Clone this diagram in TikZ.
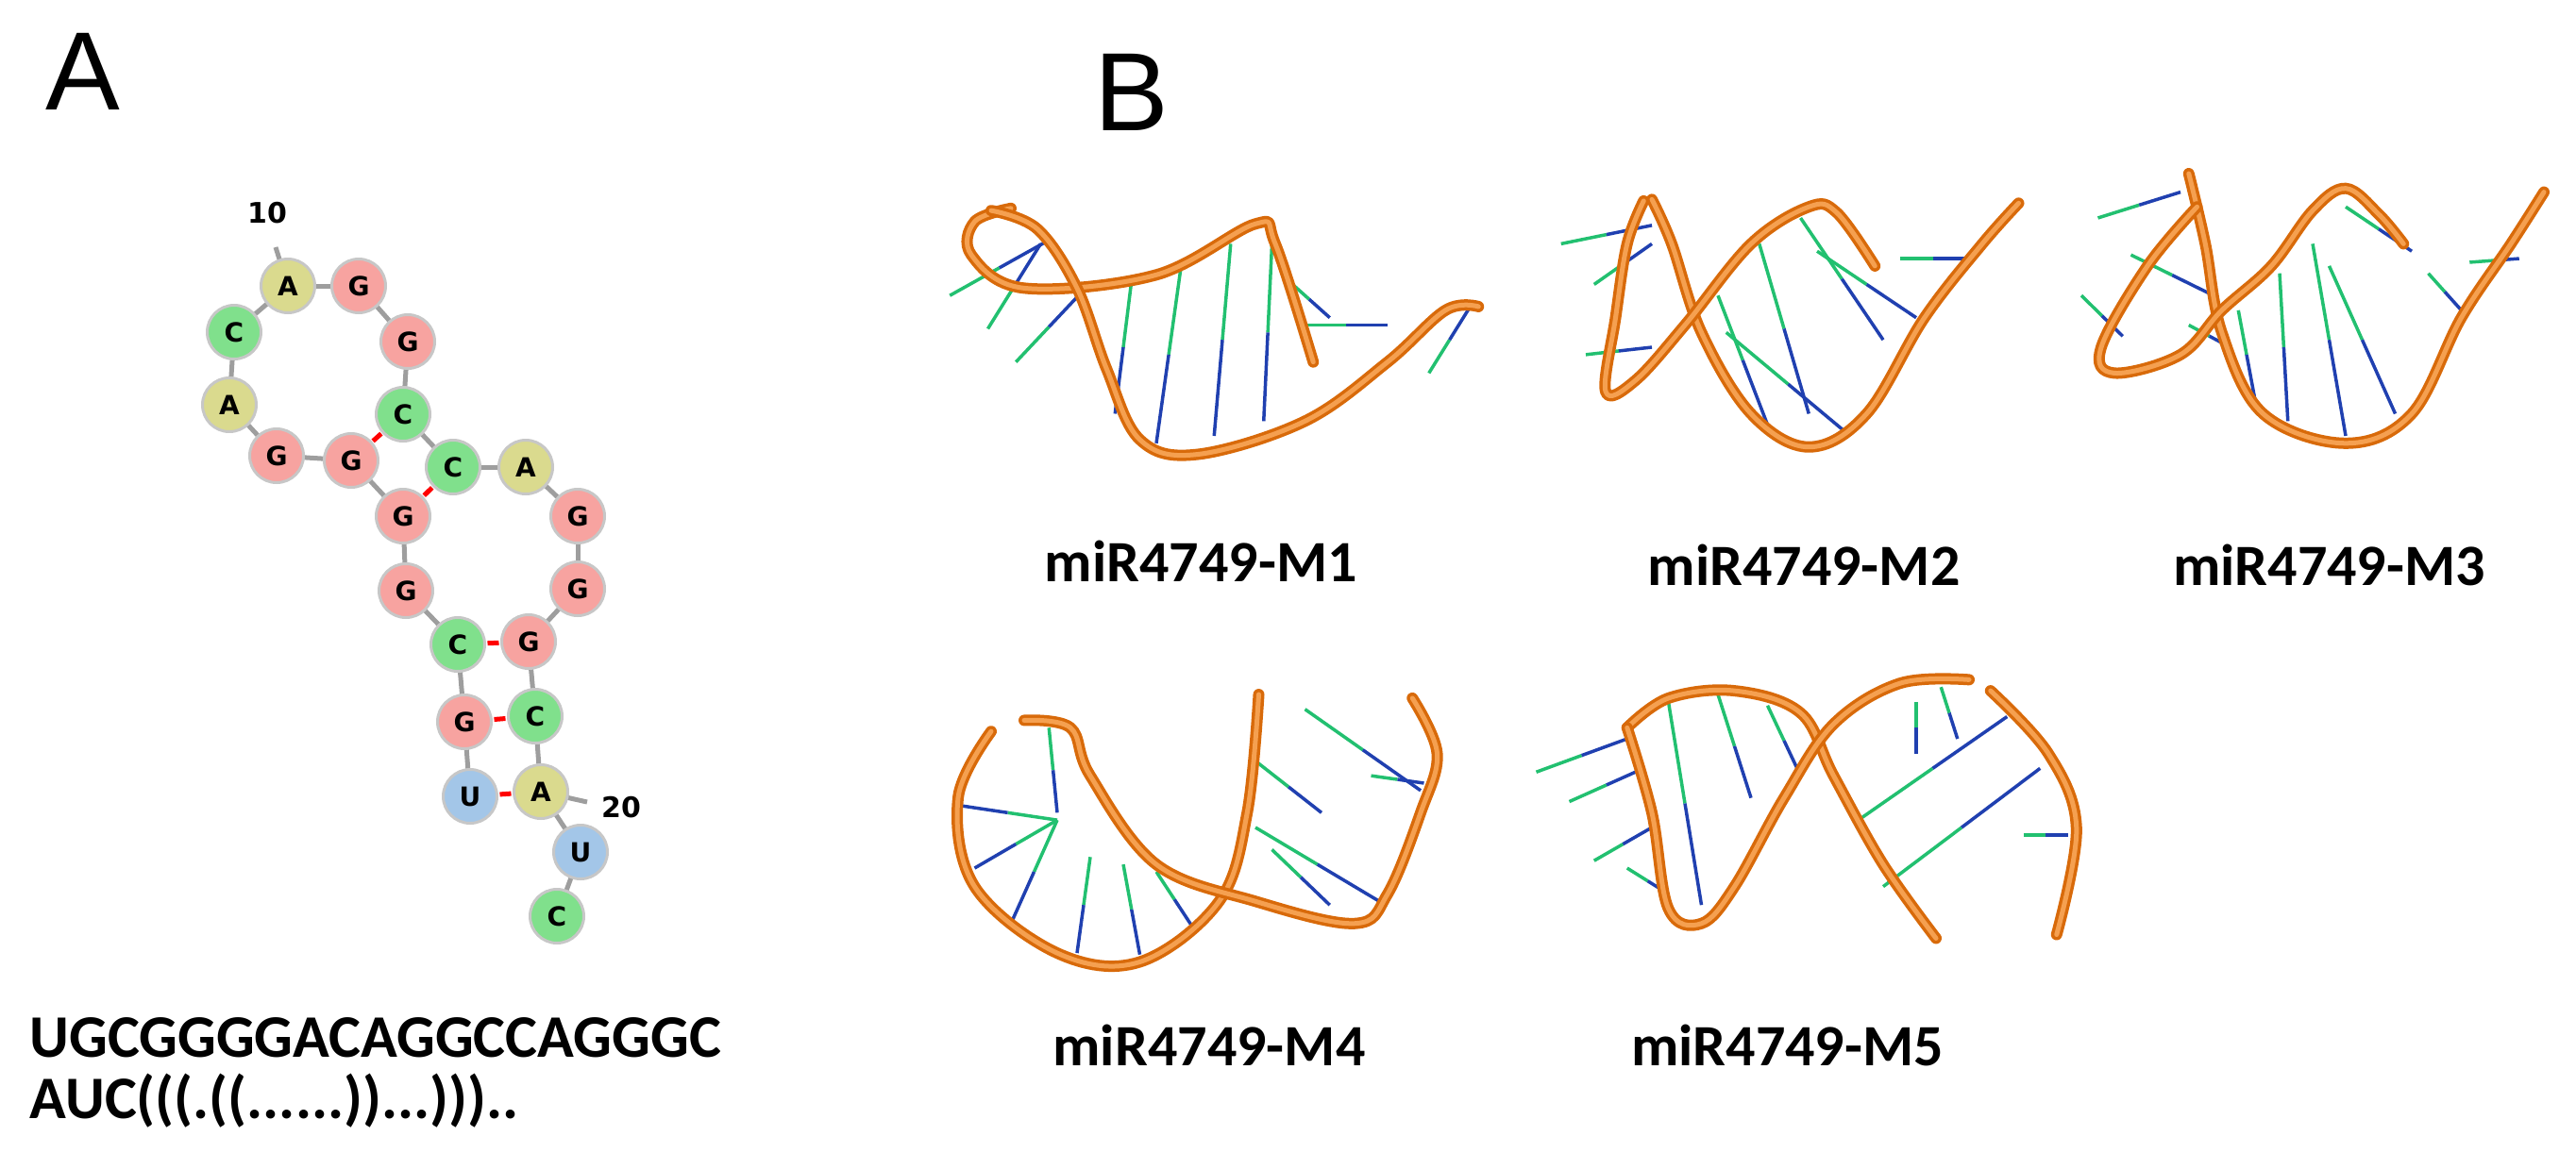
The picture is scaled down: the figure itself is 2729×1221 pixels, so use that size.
\documentclass[tikz,border=0pt]{standalone}
\usepackage{fontspec}
\setmainfont{Carlito}
\newfontfamily\nucfont{DejaVu Sans}
\newfontfamily\arialf{Liberation Sans}
\usetikzlibrary{calc}
\definecolor{ntG}{HTML}{F7A3A0}
\definecolor{ntC}{HTML}{80E08C}
\definecolor{ntA}{HTML}{DADA8E}
\definecolor{ntU}{HTML}{A3C6E8}
\definecolor{ribd}{HTML}{D86A0A}
\definecolor{ribl}{HTML}{F5A050}
\definecolor{rodgc}{HTML}{22C070}
\definecolor{rodbc}{HTML}{2040B0}
\tikzset{
 nt/.style={circle,minimum size=57pt,inner sep=0pt,draw=black!22,line width=3pt,font=\nucfont\bfseries\fontsize{28}{28}\selectfont},
 bb/.style={draw=black!38,line width=5pt},
 bp/.style={draw=red,line width=5pt},
 ribo/.style={draw=ribd,line width=12pt,line cap=round,line join=round},
 ribi/.style={draw=ribl,line width=5pt,line cap=round,line join=round},
 rodg/.style={draw=rodgc,line width=3.5pt},
 rodb/.style={draw=rodbc,line width=3.5pt},
 lab/.style={font=\bfseries\fontsize{62}{70}\selectfont},
}
\newcommand\ribbon[1]{\draw[ribo] plot[smooth,tension=0.6] coordinates{#1}; \draw[ribi] plot[smooth,tension=0.6] coordinates{#1};}
\newcommand\rodd[2]{\draw[rodg] #1 -- ($#1!0.5!#2$); \draw[rodb] ($#1!0.5!#2$) -- #2;}
\begin{document}
\begin{tikzpicture}[x=1pt,y=-1pt]
\useasboundingbox (0,0) rectangle (2729,1221);
\node[font=\arialf\fontsize{118}{118}\selectfont] (lA) at (88,76) {A};
\node[font=\arialf\fontsize{118}{118}\selectfont] (lB) at (1199,98) {B};
% nucleotides in order
\foreach \n/\l/\c/\x/\y in {1/U/ntU/498/844, 2/G/ntG/492/765, 3/C/ntC/485/683, 4/G/ntG/430/626, 5/G/ntG/427/547, 6/G/ntG/372/488, 7/G/ntG/293/483, 8/A/ntA/243/429, 9/C/ntC/248/352, 10/A/ntA/305/303, 11/G/ntG/380/303, 12/G/ntG/432/362, 13/C/ntC/427/439, 14/C/ntC/480/495, 15/A/ntA/557/495, 16/G/ntG/612/547, 17/G/ntG/612/624, 18/G/ntG/560/680, 19/C/ntC/567/759, 20/A/ntA/573/839, 21/U/ntU/615/903, 22/C/ntC/590/971}
  \coordinate (p\n) at (\x,\y);
\foreach \a/\b in {1/2,2/3,3/4,4/5,5/6,6/7,7/8,8/9,9/10,10/11,11/12,12/13,13/14,14/15,15/16,16/17,17/18,18/19,19/20,20/21,21/22}
  \draw[bb] (p\a) -- (p\b);
\foreach \a/\b in {1/20,2/19,3/18,6/13,5/14}
  \draw[bp] ($(p\a)!0.42!(p\b)$) -- ($(p\a)!0.58!(p\b)$);
\coordinate (t10) at (292,262);
\coordinate (t20) at (622,850);
\draw[bb] (p10) -- (t10);
\draw[bb] (p20) -- (t20);
\foreach \n/\l/\c in {1/U/ntU, 2/G/ntG, 3/C/ntC, 4/G/ntG, 5/G/ntG, 6/G/ntG, 7/G/ntG, 8/A/ntA, 9/C/ntC, 10/A/ntA, 11/G/ntG, 12/G/ntG, 13/C/ntC, 14/C/ntC, 15/A/ntA, 16/G/ntG, 17/G/ntG, 18/G/ntG, 19/C/ntC, 20/A/ntA, 21/U/ntU, 22/C/ntC}
  \node[nt,fill=\c] (n\n) at (p\n) {\l};
\node[font=\nucfont\bfseries\fontsize{30}{30}\selectfont] (l10) at (283,226) {10};
\node[font=\nucfont\bfseries\fontsize{30}{30}\selectfont] (l20) at (658,856) {20};
\node[font=\bfseries\fontsize{64}{70}\selectfont,anchor=west] (seq1) at (28,1100) {UGCGGGGACAGGCCAGGGC};
\node[font=\bfseries\fontsize{64}{70}\selectfont,anchor=west] (seq2) at (28,1167) {AUC(((.((......))...)))..};
\begin{scope}[x=1.75pt,y=-0.783pt]
% M1
\rodd{(575,400)}{(635,325)} \rodd{(598,445)}{(630,330)} \rodd{(615,490)}{(655,395)}
\rodd{(685,380)}{(675,560)} \rodd{(715,360)}{(700,600)} \rodd{(745,330)}{(735,590)} \rodd{(770,330)}{(765,570)}
\rodd{(780,380)}{(805,430)} \rodd{(790,440)}{(840,440)} \rodd{(865,505)}{(890,415)}
\ribbon{(612,282)(590,300)(588,345)(620,390)(700,372)(760,303)(772,330)(795,490)}
\ribbon{(600,285)(628,310)(652,390)(670,500)(690,595)(725,615)(790,570)(840,490)(875,420)(895,415)}
% M2
\rodd{(945,330)}{(1000,305)} \rodd{(965,385)}{(1000,330)} \rodd{(960,480)}{(1000,470)}
\rodd{(1065,330)}{(1095,560)} \rodd{(1090,295)}{(1140,460)} \rodd{(1040,400)}{(1070,575)}
\rodd{(1045,450)}{(1120,590)} \rodd{(1150,350)}{(1190,350)} \rodd{(1100,340)}{(1160,430)}
\ribbon{(1000,270)(1012,330)(1030,450)(1060,560)(1095,605)(1130,560)(1165,430)(1200,330)(1222,275)}
\ribbon{(995,272)(985,330)(978,430)(972,530)(990,515)(1020,440)(1060,330)(1095,280)(1112,288)(1135,360)}
% M3
\rodd{(1270,295)}{(1320,260)} \rodd{(1290,345)}{(1340,400)} \rodd{(1260,400)}{(1285,455)} \rodd{(1325,440)}{(1350,470)}
\rodd{(1380,370)}{(1385,570)} \rodd{(1400,330)}{(1420,590)} \rodd{(1420,280)}{(1460,340)} \rodd{(1355,420)}{(1365,540)}
\rodd{(1410,360)}{(1450,560)} \rodd{(1470,370)}{(1490,420)} \rodd{(1495,355)}{(1525,350)}
\ribbon{(1325,235)(1335,330)(1345,450)(1370,560)(1420,600)(1460,560)(1490,430)(1520,330)(1540,260)}
\ribbon{(1330,280)(1300,360)(1272,470)(1280,505)(1320,480)(1345,420)(1375,360)(1400,285)(1420,255)(1440,290)(1455,330)}
% M4
\rodd{(640,1110)}{(580,1090)} \rodd{(640,1110)}{(590,1175)} \rodd{(640,1110)}{(612,1250)}
\rodd{(660,1160)}{(652,1290)} \rodd{(680,1170)}{(690,1292)} \rodd{(700,1180)}{(722,1255)} \rodd{(635,985)}{(640,1100)}
\rodd{(760,1030)}{(800,1100)} \rodd{(760,1120)}{(835,1220)} \rodd{(790,960)}{(860,1070)} \rodd{(830,1050)}{(862,1060)}
\rodd{(770,1150)}{(805,1225)}
\ribbon{(600,990)(580,1080)(590,1200)(640,1290)(690,1302)(738,1220)(755,1100)(762,940)}
\ribbon{(620,975)(648,985)(660,1050)(700,1170)(760,1220)(820,1250)(840,1210)(860,1100)(870,1020)(855,945)}
% M5
\rodd{(930,1045)}{(985,1000)} \rodd{(950,1085)}{(995,1040)} \rodd{(965,1165)}{(1000,1120)} \rodd{(985,1175)}{(1010,1210)}
\rodd{(1010,950)}{(1030,1225)} \rodd{(1040,940)}{(1060,1080)} \rodd{(1070,955)}{(1090,1050)}
\rodd{(1125,1110)}{(1215,970)} \rodd{(1140,1200)}{(1235,1040)} \rodd{(1225,1130)}{(1252,1130)} \rodd{(1160,950)}{(1160,1020)}
\rodd{(1175,930)}{(1185,1000)}
\ribbon{(985,985)(1010,945)(1050,935)(1090,965)(1110,1050)(1140,1170)(1172,1270)}
\ribbon{(985,985)(1000,1100)(1010,1230)(1030,1250)(1050,1200)(1080,1080)(1110,980)(1150,925)(1192,920)}
\ribbon{(1205,935)(1240,1020)(1257,1120)(1245,1265)}
\node[lab] (m1) at (727,760) {miR4749-M1};
\node[lab] (m2) at (1092,765) {miR4749-M2};
\node[lab] (m3) at (1410,765) {miR4749-M3};
\node[lab] (m4) at (732,1415) {miR4749-M4};
\node[lab] (m5) at (1082,1415) {miR4749-M5};
\end{scope}
\end{tikzpicture}
\end{document}
